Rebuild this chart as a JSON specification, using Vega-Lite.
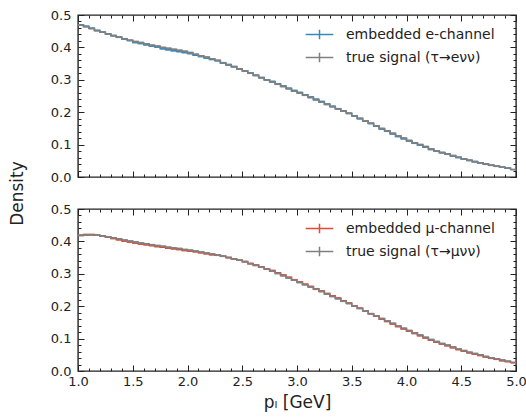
{
  "$schema": "https://vega.github.io/schema/vega-lite/v6.json",
  "background": "white",
  "padding": {"left": 7, "top": 8, "right": 0, "bottom": 5},
  "config": {
    "font": "DejaVu Sans",
    "view": {"stroke": "#222222", "strokeWidth": 1.4},
    "axis": {"grid": false, "domain": false, "labelFlush": false, "tickColor": "#222222", "tickWidth": 1, "labelFont": "DejaVu Sans", "labelFontSize": 13, "labelColor": "#222222", "titleFont": "DejaVu Sans", "titleFontSize": 17, "titleFontWeight": "normal", "titleColor": "#222222"},
    "legend": {"labelFont": "DejaVu Sans", "labelFontSize": 14, "labelColor": "#222222"}
  },
  "datasets": {
    "bins": [
      {"lo":1.00,"hi":1.05,"ee":0.470,"et":0.469,"me":0.419,"mt":0.418},
      {"lo":1.05,"hi":1.10,"ee":0.465,"et":0.464,"me":0.421,"mt":0.420},
      {"lo":1.10,"hi":1.15,"ee":0.459,"et":0.458,"me":0.421,"mt":0.420},
      {"lo":1.15,"hi":1.20,"ee":0.452,"et":0.452,"me":0.419,"mt":0.419},
      {"lo":1.20,"hi":1.25,"ee":0.447,"et":0.447,"me":0.416,"mt":0.417},
      {"lo":1.25,"hi":1.30,"ee":0.441,"et":0.442,"me":0.413,"mt":0.414},
      {"lo":1.30,"hi":1.35,"ee":0.436,"et":0.437,"me":0.409,"mt":0.411},
      {"lo":1.35,"hi":1.40,"ee":0.431,"et":0.432,"me":0.405,"mt":0.408},
      {"lo":1.40,"hi":1.45,"ee":0.426,"et":0.427,"me":0.401,"mt":0.404},
      {"lo":1.45,"hi":1.50,"ee":0.421,"et":0.422,"me":0.398,"mt":0.401},
      {"lo":1.50,"hi":1.55,"ee":0.415,"et":0.418,"me":0.395,"mt":0.398},
      {"lo":1.55,"hi":1.60,"ee":0.412,"et":0.415,"me":0.392,"mt":0.395},
      {"lo":1.60,"hi":1.65,"ee":0.408,"et":0.411,"me":0.390,"mt":0.393},
      {"lo":1.65,"hi":1.70,"ee":0.404,"et":0.407,"me":0.387,"mt":0.390},
      {"lo":1.70,"hi":1.75,"ee":0.401,"et":0.404,"me":0.384,"mt":0.387},
      {"lo":1.75,"hi":1.80,"ee":0.396,"et":0.400,"me":0.382,"mt":0.385},
      {"lo":1.80,"hi":1.85,"ee":0.393,"et":0.397,"me":0.379,"mt":0.382},
      {"lo":1.85,"hi":1.90,"ee":0.390,"et":0.394,"me":0.377,"mt":0.380},
      {"lo":1.90,"hi":1.95,"ee":0.387,"et":0.391,"me":0.375,"mt":0.378},
      {"lo":1.95,"hi":2.00,"ee":0.384,"et":0.388,"me":0.372,"mt":0.375},
      {"lo":2.00,"hi":2.05,"ee":0.381,"et":0.384,"me":0.370,"mt":0.373},
      {"lo":2.05,"hi":2.10,"ee":0.376,"et":0.379,"me":0.368,"mt":0.370},
      {"lo":2.10,"hi":2.15,"ee":0.372,"et":0.374,"me":0.365,"mt":0.367},
      {"lo":2.15,"hi":2.20,"ee":0.367,"et":0.370,"me":0.362,"mt":0.364},
      {"lo":2.20,"hi":2.25,"ee":0.363,"et":0.365,"me":0.359,"mt":0.361},
      {"lo":2.25,"hi":2.30,"ee":0.359,"et":0.360,"me":0.357,"mt":0.358},
      {"lo":2.30,"hi":2.35,"ee":0.352,"et":0.353,"me":0.354,"mt":0.354},
      {"lo":2.35,"hi":2.40,"ee":0.346,"et":0.347,"me":0.350,"mt":0.350},
      {"lo":2.40,"hi":2.45,"ee":0.340,"et":0.341,"me":0.346,"mt":0.346},
      {"lo":2.45,"hi":2.50,"ee":0.333,"et":0.334,"me":0.342,"mt":0.342},
      {"lo":2.50,"hi":2.55,"ee":0.328,"et":0.327,"me":0.338,"mt":0.337},
      {"lo":2.55,"hi":2.60,"ee":0.321,"et":0.320,"me":0.332,"mt":0.331},
      {"lo":2.60,"hi":2.65,"ee":0.314,"et":0.313,"me":0.327,"mt":0.326},
      {"lo":2.65,"hi":2.70,"ee":0.307,"et":0.306,"me":0.321,"mt":0.320},
      {"lo":2.70,"hi":2.75,"ee":0.300,"et":0.299,"me":0.315,"mt":0.314},
      {"lo":2.75,"hi":2.80,"ee":0.295,"et":0.293,"me":0.310,"mt":0.308},
      {"lo":2.80,"hi":2.85,"ee":0.288,"et":0.286,"me":0.303,"mt":0.301},
      {"lo":2.85,"hi":2.90,"ee":0.281,"et":0.279,"me":0.296,"mt":0.294},
      {"lo":2.90,"hi":2.95,"ee":0.274,"et":0.272,"me":0.289,"mt":0.287},
      {"lo":2.95,"hi":3.00,"ee":0.267,"et":0.265,"me":0.282,"mt":0.280},
      {"lo":3.00,"hi":3.05,"ee":0.261,"et":0.259,"me":0.275,"mt":0.273},
      {"lo":3.05,"hi":3.10,"ee":0.254,"et":0.252,"me":0.268,"mt":0.266},
      {"lo":3.10,"hi":3.15,"ee":0.247,"et":0.245,"me":0.261,"mt":0.259},
      {"lo":3.15,"hi":3.20,"ee":0.240,"et":0.238,"me":0.254,"mt":0.252},
      {"lo":3.20,"hi":3.25,"ee":0.233,"et":0.231,"me":0.247,"mt":0.245},
      {"lo":3.25,"hi":3.30,"ee":0.225,"et":0.224,"me":0.239,"mt":0.237},
      {"lo":3.30,"hi":3.35,"ee":0.218,"et":0.217,"me":0.232,"mt":0.230},
      {"lo":3.35,"hi":3.40,"ee":0.211,"et":0.210,"me":0.225,"mt":0.223},
      {"lo":3.40,"hi":3.45,"ee":0.204,"et":0.203,"me":0.217,"mt":0.215},
      {"lo":3.45,"hi":3.50,"ee":0.197,"et":0.196,"me":0.210,"mt":0.208},
      {"lo":3.50,"hi":3.55,"ee":0.188,"et":0.189,"me":0.201,"mt":0.200},
      {"lo":3.55,"hi":3.60,"ee":0.180,"et":0.181,"me":0.194,"mt":0.193},
      {"lo":3.60,"hi":3.65,"ee":0.172,"et":0.173,"me":0.186,"mt":0.185},
      {"lo":3.65,"hi":3.70,"ee":0.165,"et":0.166,"me":0.177,"mt":0.177},
      {"lo":3.70,"hi":3.75,"ee":0.157,"et":0.158,"me":0.169,"mt":0.170},
      {"lo":3.75,"hi":3.80,"ee":0.148,"et":0.150,"me":0.160,"mt":0.162},
      {"lo":3.80,"hi":3.85,"ee":0.141,"et":0.143,"me":0.153,"mt":0.155},
      {"lo":3.85,"hi":3.90,"ee":0.133,"et":0.135,"me":0.145,"mt":0.147},
      {"lo":3.90,"hi":3.95,"ee":0.125,"et":0.127,"me":0.137,"mt":0.139},
      {"lo":3.95,"hi":4.00,"ee":0.118,"et":0.120,"me":0.130,"mt":0.132},
      {"lo":4.00,"hi":4.05,"ee":0.111,"et":0.113,"me":0.123,"mt":0.125},
      {"lo":4.05,"hi":4.10,"ee":0.104,"et":0.106,"me":0.116,"mt":0.118},
      {"lo":4.10,"hi":4.15,"ee":0.098,"et":0.100,"me":0.109,"mt":0.111},
      {"lo":4.15,"hi":4.20,"ee":0.092,"et":0.094,"me":0.102,"mt":0.104},
      {"lo":4.20,"hi":4.25,"ee":0.085,"et":0.087,"me":0.095,"mt":0.097},
      {"lo":4.25,"hi":4.30,"ee":0.080,"et":0.081,"me":0.089,"mt":0.091},
      {"lo":4.30,"hi":4.35,"ee":0.075,"et":0.076,"me":0.083,"mt":0.085},
      {"lo":4.35,"hi":4.40,"ee":0.070,"et":0.071,"me":0.078,"mt":0.080},
      {"lo":4.40,"hi":4.45,"ee":0.065,"et":0.066,"me":0.072,"mt":0.074},
      {"lo":4.45,"hi":4.50,"ee":0.060,"et":0.061,"me":0.066,"mt":0.068},
      {"lo":4.50,"hi":4.55,"ee":0.055,"et":0.056,"me":0.061,"mt":0.063},
      {"lo":4.55,"hi":4.60,"ee":0.051,"et":0.052,"me":0.056,"mt":0.058},
      {"lo":4.60,"hi":4.65,"ee":0.047,"et":0.048,"me":0.052,"mt":0.054},
      {"lo":4.65,"hi":4.70,"ee":0.043,"et":0.044,"me":0.048,"mt":0.050},
      {"lo":4.70,"hi":4.75,"ee":0.039,"et":0.040,"me":0.043,"mt":0.045},
      {"lo":4.75,"hi":4.80,"ee":0.036,"et":0.036,"me":0.039,"mt":0.041},
      {"lo":4.80,"hi":4.85,"ee":0.033,"et":0.033,"me":0.036,"mt":0.038},
      {"lo":4.85,"hi":4.90,"ee":0.030,"et":0.030,"me":0.032,"mt":0.034},
      {"lo":4.90,"hi":4.95,"ee":0.027,"et":0.027,"me":0.029,"mt":0.030},
      {"lo":4.95,"hi":5.00,"ee":0.023,"et":0.023,"me":0.025,"mt":0.027}
    ]
  },
  "spacing": 32,
  "bounds": "flush",
  "resolve": {"scale": {"color": "independent"}, "legend": {"color": "independent"}},
  "vconcat": [
    {
      "width": 438, "height": 162,
      "data": {"name": "bins"},
      "resolve": {"axis": {"x": "independent", "y": "independent"}},
      "layer": [
        {
          "mark": {"type": "line", "interpolate": "step-after", "strokeWidth": 1.5},
          "encoding": {
            "x": {"field": "lo", "type": "quantitative", "scale": {"domain": [1, 5], "nice": false, "zero": false},
                  "axis": {"orient": "bottom", "values": [1, 1.5, 2, 2.5, 3, 3.5, 4, 4.5, 5], "tickSize": -6, "labels": false, "title": null}},
            "y": {"field": "ee", "type": "quantitative", "scale": {"domain": [0, 0.5], "nice": false},
                  "axis": {"orient": "left", "values": [0, 0.1, 0.2, 0.3, 0.4, 0.5], "format": ".1f", "tickSize": -6, "labelPadding": 13, "title": "Density", "titleX": -56, "titleY": 178, "titleBaseline": "alphabetic", "titleAlign": "center", "titleAngle": -90}},
            "color": {"datum": "embedded e-channel", "type": "nominal",
                      "scale": {"domain": ["embedded e-channel", "true signal (τ→eνν)"], "range": ["#348ABD", "#808080"]},
                      "legend": {"orient": "none", "legendX": 229, "legendY": 7, "title": null, "symbolType": "M-1.2,0H1.2M0,-0.42V0.42", "symbolSize": 529, "symbolStrokeWidth": 1.5, "rowPadding": 2, "labelOffset": 14, "padding": 0, "labelLimit": 300}}
          }
        },
        {
          "mark": {"type": "rule", "strokeWidth": 1.5},
          "encoding": {
            "x": {"field": "lo", "type": "quantitative",
                  "axis": {"orient": "bottom", "values": [1.1, 1.2, 1.3, 1.4, 1.6, 1.7, 1.8, 1.9, 2.1, 2.2, 2.3, 2.4, 2.6, 2.7, 2.8, 2.9, 3.1, 3.2, 3.3, 3.4, 3.6, 3.7, 3.8, 3.9, 4.1, 4.2, 4.3, 4.4, 4.6, 4.7, 4.8, 4.9], "tickSize": -3, "labels": false, "title": null}},
            "x2": {"field": "hi"},
            "y": {"field": "ee", "type": "quantitative",
                  "axis": {"orient": "left", "values": [0.02, 0.04, 0.06, 0.08, 0.12, 0.14, 0.16, 0.18, 0.22, 0.24, 0.26, 0.28, 0.32, 0.34, 0.36, 0.38, 0.42, 0.44, 0.46, 0.48], "tickSize": -3, "labels": false, "title": null}},
            "color": {"datum": "embedded e-channel", "type": "nominal"}
          }
        },
        {
          "mark": {"type": "line", "interpolate": "step-after", "strokeWidth": 1.5},
          "encoding": {
            "x": {"field": "lo", "type": "quantitative",
                  "axis": {"orient": "top", "values": [1, 1.5, 2, 2.5, 3, 3.5, 4, 4.5, 5], "tickSize": -6, "labels": false, "title": null}},
            "y": {"field": "et", "type": "quantitative",
                  "axis": {"orient": "right", "values": [0, 0.1, 0.2, 0.3, 0.4, 0.5], "tickSize": -6, "labels": false, "title": null}},
            "color": {"datum": "true signal (τ→eνν)", "type": "nominal"}
          }
        },
        {
          "mark": {"type": "rule", "strokeWidth": 1.5},
          "encoding": {
            "x": {"field": "lo", "type": "quantitative",
                  "axis": {"orient": "top", "values": [1.1, 1.2, 1.3, 1.4, 1.6, 1.7, 1.8, 1.9, 2.1, 2.2, 2.3, 2.4, 2.6, 2.7, 2.8, 2.9, 3.1, 3.2, 3.3, 3.4, 3.6, 3.7, 3.8, 3.9, 4.1, 4.2, 4.3, 4.4, 4.6, 4.7, 4.8, 4.9], "tickSize": -3, "labels": false, "title": null}},
            "x2": {"field": "hi"},
            "y": {"field": "et", "type": "quantitative",
                  "axis": {"orient": "right", "values": [0.02, 0.04, 0.06, 0.08, 0.12, 0.14, 0.16, 0.18, 0.22, 0.24, 0.26, 0.28, 0.32, 0.34, 0.36, 0.38, 0.42, 0.44, 0.46, 0.48], "tickSize": -3, "labels": false, "title": null}},
            "color": {"datum": "true signal (τ→eνν)", "type": "nominal"}
          }
        }
      ]
    },
    {
      "width": 438, "height": 162,
      "data": {"name": "bins"},
      "resolve": {"axis": {"x": "independent", "y": "independent"}},
      "layer": [
        {
          "mark": {"type": "line", "interpolate": "step-after", "strokeWidth": 1.5},
          "encoding": {
            "x": {"field": "lo", "type": "quantitative", "scale": {"domain": [1, 5], "nice": false, "zero": false},
                  "axis": {"orient": "bottom", "values": [1, 1.5, 2, 2.5, 3, 3.5, 4, 4.5, 5], "format": ".1f", "tickSize": -6, "labelPadding": 10, "title": "pₗ [GeV]", "titlePadding": 6}},
            "y": {"field": "me", "type": "quantitative", "scale": {"domain": [0, 0.5], "nice": false},
                  "axis": {"orient": "left", "values": [0, 0.1, 0.2, 0.3, 0.4, 0.5], "format": ".1f", "tickSize": -6, "labelPadding": 13, "title": null}},
            "color": {"datum": "embedded μ-channel", "type": "nominal",
                      "scale": {"domain": ["embedded μ-channel", "true signal (τ→μνν)"], "range": ["#E24A33", "#808080"]},
                      "legend": {"orient": "none", "legendX": 229, "legendY": 7, "title": null, "symbolType": "M-1.2,0H1.2M0,-0.42V0.42", "symbolSize": 529, "symbolStrokeWidth": 1.5, "rowPadding": 2, "labelOffset": 14, "padding": 0, "labelLimit": 300}}
          }
        },
        {
          "mark": {"type": "rule", "strokeWidth": 1.5},
          "encoding": {
            "x": {"field": "lo", "type": "quantitative",
                  "axis": {"orient": "bottom", "values": [1.1, 1.2, 1.3, 1.4, 1.6, 1.7, 1.8, 1.9, 2.1, 2.2, 2.3, 2.4, 2.6, 2.7, 2.8, 2.9, 3.1, 3.2, 3.3, 3.4, 3.6, 3.7, 3.8, 3.9, 4.1, 4.2, 4.3, 4.4, 4.6, 4.7, 4.8, 4.9], "tickSize": -3, "labels": false, "title": null}},
            "x2": {"field": "hi"},
            "y": {"field": "me", "type": "quantitative",
                  "axis": {"orient": "left", "values": [0.02, 0.04, 0.06, 0.08, 0.12, 0.14, 0.16, 0.18, 0.22, 0.24, 0.26, 0.28, 0.32, 0.34, 0.36, 0.38, 0.42, 0.44, 0.46, 0.48], "tickSize": -3, "labels": false, "title": null}},
            "color": {"datum": "embedded μ-channel", "type": "nominal"}
          }
        },
        {
          "mark": {"type": "line", "interpolate": "step-after", "strokeWidth": 1.5},
          "encoding": {
            "x": {"field": "lo", "type": "quantitative",
                  "axis": {"orient": "top", "values": [1, 1.5, 2, 2.5, 3, 3.5, 4, 4.5, 5], "tickSize": -6, "labels": false, "title": null}},
            "y": {"field": "mt", "type": "quantitative",
                  "axis": {"orient": "right", "values": [0, 0.1, 0.2, 0.3, 0.4, 0.5], "tickSize": -6, "labels": false, "title": null}},
            "color": {"datum": "true signal (τ→μνν)", "type": "nominal"}
          }
        },
        {
          "mark": {"type": "rule", "strokeWidth": 1.5},
          "encoding": {
            "x": {"field": "lo", "type": "quantitative",
                  "axis": {"orient": "top", "values": [1.1, 1.2, 1.3, 1.4, 1.6, 1.7, 1.8, 1.9, 2.1, 2.2, 2.3, 2.4, 2.6, 2.7, 2.8, 2.9, 3.1, 3.2, 3.3, 3.4, 3.6, 3.7, 3.8, 3.9, 4.1, 4.2, 4.3, 4.4, 4.6, 4.7, 4.8, 4.9], "tickSize": -3, "labels": false, "title": null}},
            "x2": {"field": "hi"},
            "y": {"field": "mt", "type": "quantitative",
                  "axis": {"orient": "right", "values": [0.02, 0.04, 0.06, 0.08, 0.12, 0.14, 0.16, 0.18, 0.22, 0.24, 0.26, 0.28, 0.32, 0.34, 0.36, 0.38, 0.42, 0.44, 0.46, 0.48], "tickSize": -3, "labels": false, "title": null}},
            "color": {"datum": "true signal (τ→μνν)", "type": "nominal"}
          }
        }
      ]
    }
  ]
}
